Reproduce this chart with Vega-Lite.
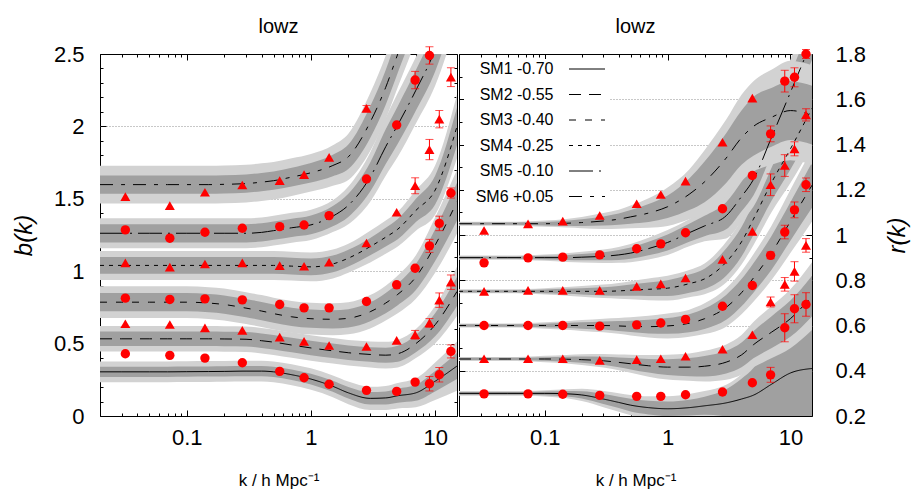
{
"$schema":"https://vega.github.io/schema/vega-lite/v6.json",
"background":"white",
"padding":{"left":11,"top":16,"right":2,"bottom":2},
"spacing":0,
"config":{
 "font":"Liberation Sans",
 "view":{"stroke":"black","strokeWidth":1},
 "title":{"fontSize":20,"fontWeight":"normal","color":"black","offset":6,"frame":"group"},
 "axis":{"labelFontSize":22,"labelColor":"black","tickColor":"black","titleColor":"black","titleFontWeight":"normal","domain":false,"labelOverlap":false,"labelFlush":false,"zindex":1,"gridColor":"#909090","gridDash":[1,2],"gridWidth":1}
},
"resolve":{"scale":{"x":"independent","y":"independent","strokeDash":"independent","shape":"independent"},"legend":{"strokeDash":"independent","shape":"independent"}},
"datasets":{
"cl":[
{"m":"SM1 -0.70","k":0.02,"v":0.305,"a":0.035,"b":0.072},{"m":"SM1 -0.70","k":0.03,"v":0.305,"a":0.035,"b":0.072},{"m":"SM1 -0.70","k":0.05,"v":0.305,"a":0.035,"b":0.072},{"m":"SM1 -0.70","k":0.07,"v":0.305,"a":0.035,"b":0.072},{"m":"SM1 -0.70","k":0.1,"v":0.306,"a":0.035,"b":0.072},{"m":"SM1 -0.70","k":0.15,"v":0.307,"a":0.035,"b":0.072},{"m":"SM1 -0.70","k":0.2,"v":0.308,"a":0.035,"b":0.072},{"m":"SM1 -0.70","k":0.3,"v":0.31,"a":0.035,"b":0.072},{"m":"SM1 -0.70","k":0.4,"v":0.31,"a":0.035,"b":0.072},{"m":"SM1 -0.70","k":0.5,"v":0.305,"a":0.035,"b":0.072},{"m":"SM1 -0.70","k":0.7,"v":0.285,"a":0.036,"b":0.073},{"m":"SM1 -0.70","k":1,"v":0.255,"a":0.037,"b":0.074},{"m":"SM1 -0.70","k":1.5,"v":0.205,"a":0.038,"b":0.075},{"m":"SM1 -0.70","k":2,"v":0.16,"a":0.04,"b":0.078},{"m":"SM1 -0.70","k":3,"v":0.122,"a":0.043,"b":0.08},{"m":"SM1 -0.70","k":4,"v":0.125,"a":0.045,"b":0.083},{"m":"SM1 -0.70","k":5,"v":0.14,"a":0.048,"b":0.088},{"m":"SM1 -0.70","k":7,"v":0.16,"a":0.055,"b":0.1},{"m":"SM1 -0.70","k":10,"v":0.24,"a":0.07,"b":0.13},{"m":"SM1 -0.70","k":15,"v":0.345,"a":0.09,"b":0.17},
{"m":"SM2 -0.55","k":0.02,"v":0.533,"a":0.05,"b":0.088},{"m":"SM2 -0.55","k":0.03,"v":0.533,"a":0.05,"b":0.088},{"m":"SM2 -0.55","k":0.05,"v":0.533,"a":0.05,"b":0.088},{"m":"SM2 -0.55","k":0.07,"v":0.533,"a":0.05,"b":0.088},{"m":"SM2 -0.55","k":0.1,"v":0.533,"a":0.05,"b":0.088},{"m":"SM2 -0.55","k":0.15,"v":0.533,"a":0.05,"b":0.088},{"m":"SM2 -0.55","k":0.2,"v":0.532,"a":0.05,"b":0.088},{"m":"SM2 -0.55","k":0.3,"v":0.53,"a":0.05,"b":0.088},{"m":"SM2 -0.55","k":0.4,"v":0.52,"a":0.05,"b":0.088},{"m":"SM2 -0.55","k":0.5,"v":0.51,"a":0.05,"b":0.088},{"m":"SM2 -0.55","k":0.7,"v":0.49,"a":0.05,"b":0.088},{"m":"SM2 -0.55","k":1,"v":0.47,"a":0.05,"b":0.088},{"m":"SM2 -0.55","k":1.5,"v":0.45,"a":0.05,"b":0.088},{"m":"SM2 -0.55","k":2,"v":0.437,"a":0.05,"b":0.088},{"m":"SM2 -0.55","k":3,"v":0.425,"a":0.05,"b":0.09},{"m":"SM2 -0.55","k":4,"v":0.42,"a":0.052,"b":0.092},{"m":"SM2 -0.55","k":5,"v":0.43,"a":0.055,"b":0.095},{"m":"SM2 -0.55","k":7,"v":0.5,"a":0.06,"b":0.1},{"m":"SM2 -0.55","k":10,"v":0.63,"a":0.08,"b":0.13},{"m":"SM2 -0.55","k":15,"v":0.86,"a":0.1,"b":0.17},
{"m":"SM3 -0.40","k":0.02,"v":0.786,"a":0.063,"b":0.11},{"m":"SM3 -0.40","k":0.03,"v":0.786,"a":0.063,"b":0.11},{"m":"SM3 -0.40","k":0.05,"v":0.786,"a":0.063,"b":0.11},{"m":"SM3 -0.40","k":0.07,"v":0.786,"a":0.063,"b":0.11},{"m":"SM3 -0.40","k":0.1,"v":0.786,"a":0.063,"b":0.11},{"m":"SM3 -0.40","k":0.15,"v":0.78,"a":0.063,"b":0.11},{"m":"SM3 -0.40","k":0.2,"v":0.77,"a":0.063,"b":0.11},{"m":"SM3 -0.40","k":0.3,"v":0.745,"a":0.063,"b":0.11},{"m":"SM3 -0.40","k":0.4,"v":0.725,"a":0.063,"b":0.11},{"m":"SM3 -0.40","k":0.5,"v":0.707,"a":0.063,"b":0.11},{"m":"SM3 -0.40","k":0.7,"v":0.685,"a":0.063,"b":0.11},{"m":"SM3 -0.40","k":1,"v":0.672,"a":0.063,"b":0.11},{"m":"SM3 -0.40","k":1.5,"v":0.668,"a":0.063,"b":0.11},{"m":"SM3 -0.40","k":2,"v":0.675,"a":0.063,"b":0.11},{"m":"SM3 -0.40","k":3,"v":0.72,"a":0.065,"b":0.115},{"m":"SM3 -0.40","k":4,"v":0.78,"a":0.07,"b":0.12},{"m":"SM3 -0.40","k":5,"v":0.84,"a":0.075,"b":0.13},{"m":"SM3 -0.40","k":7,"v":0.96,"a":0.09,"b":0.15},{"m":"SM3 -0.40","k":10,"v":1.18,"a":0.11,"b":0.19},{"m":"SM3 -0.40","k":15,"v":1.48,"a":0.13,"b":0.22},
{"m":"SM4 -0.25","k":0.02,"v":1.04,"a":0.058,"b":0.1},{"m":"SM4 -0.25","k":0.03,"v":1.04,"a":0.058,"b":0.1},{"m":"SM4 -0.25","k":0.05,"v":1.04,"a":0.058,"b":0.1},{"m":"SM4 -0.25","k":0.07,"v":1.04,"a":0.058,"b":0.1},{"m":"SM4 -0.25","k":0.1,"v":1.04,"a":0.058,"b":0.1},{"m":"SM4 -0.25","k":0.15,"v":1.04,"a":0.058,"b":0.1},{"m":"SM4 -0.25","k":0.2,"v":1.04,"a":0.058,"b":0.1},{"m":"SM4 -0.25","k":0.3,"v":1.04,"a":0.058,"b":0.1},{"m":"SM4 -0.25","k":0.4,"v":1.04,"a":0.058,"b":0.1},{"m":"SM4 -0.25","k":0.5,"v":1.04,"a":0.058,"b":0.1},{"m":"SM4 -0.25","k":0.7,"v":1.035,"a":0.058,"b":0.1},{"m":"SM4 -0.25","k":1,"v":1.03,"a":0.058,"b":0.1},{"m":"SM4 -0.25","k":1.5,"v":1.05,"a":0.058,"b":0.1},{"m":"SM4 -0.25","k":2,"v":1.09,"a":0.058,"b":0.1},{"m":"SM4 -0.25","k":3,"v":1.17,"a":0.06,"b":0.11},{"m":"SM4 -0.25","k":4,"v":1.235,"a":0.065,"b":0.115},{"m":"SM4 -0.25","k":5,"v":1.29,"a":0.07,"b":0.12},{"m":"SM4 -0.25","k":7,"v":1.42,"a":0.08,"b":0.14},{"m":"SM4 -0.25","k":10,"v":1.56,"a":0.1,"b":0.17},{"m":"SM4 -0.25","k":15,"v":2.0,"a":0.13,"b":0.22},
{"m":"SM5 -0.10","k":0.02,"v":1.262,"a":0.063,"b":0.103},{"m":"SM5 -0.10","k":0.03,"v":1.262,"a":0.063,"b":0.103},{"m":"SM5 -0.10","k":0.05,"v":1.262,"a":0.063,"b":0.103},{"m":"SM5 -0.10","k":0.07,"v":1.262,"a":0.063,"b":0.103},{"m":"SM5 -0.10","k":0.1,"v":1.262,"a":0.063,"b":0.103},{"m":"SM5 -0.10","k":0.15,"v":1.262,"a":0.063,"b":0.103},{"m":"SM5 -0.10","k":0.2,"v":1.262,"a":0.063,"b":0.103},{"m":"SM5 -0.10","k":0.3,"v":1.262,"a":0.063,"b":0.103},{"m":"SM5 -0.10","k":0.4,"v":1.268,"a":0.063,"b":0.103},{"m":"SM5 -0.10","k":0.5,"v":1.28,"a":0.063,"b":0.103},{"m":"SM5 -0.10","k":0.7,"v":1.3,"a":0.063,"b":0.103},{"m":"SM5 -0.10","k":1,"v":1.32,"a":0.065,"b":0.105},{"m":"SM5 -0.10","k":1.5,"v":1.38,"a":0.07,"b":0.11},{"m":"SM5 -0.10","k":2,"v":1.455,"a":0.08,"b":0.13},{"m":"SM5 -0.10","k":3,"v":1.65,"a":0.1,"b":0.17},{"m":"SM5 -0.10","k":4,"v":1.86,"a":0.12,"b":0.2},{"m":"SM5 -0.10","k":5,"v":2.01,"a":0.13,"b":0.22},{"m":"SM5 -0.10","k":7,"v":2.25,"a":0.14,"b":0.23},{"m":"SM5 -0.10","k":10,"v":2.53,"a":0.15,"b":0.25},{"m":"SM5 -0.10","k":15,"v":3.0,"a":0.16,"b":0.27},
{"m":"SM6 +0.05","k":0.02,"v":1.598,"a":0.063,"b":0.13},{"m":"SM6 +0.05","k":0.03,"v":1.598,"a":0.063,"b":0.13},{"m":"SM6 +0.05","k":0.05,"v":1.598,"a":0.063,"b":0.13},{"m":"SM6 +0.05","k":0.07,"v":1.598,"a":0.063,"b":0.13},{"m":"SM6 +0.05","k":0.1,"v":1.598,"a":0.063,"b":0.13},{"m":"SM6 +0.05","k":0.15,"v":1.598,"a":0.063,"b":0.13},{"m":"SM6 +0.05","k":0.2,"v":1.6,"a":0.063,"b":0.13},{"m":"SM6 +0.05","k":0.3,"v":1.605,"a":0.063,"b":0.13},{"m":"SM6 +0.05","k":0.4,"v":1.615,"a":0.063,"b":0.13},{"m":"SM6 +0.05","k":0.5,"v":1.625,"a":0.063,"b":0.13},{"m":"SM6 +0.05","k":0.7,"v":1.65,"a":0.065,"b":0.13},{"m":"SM6 +0.05","k":1,"v":1.68,"a":0.068,"b":0.13},{"m":"SM6 +0.05","k":1.5,"v":1.73,"a":0.075,"b":0.14},{"m":"SM6 +0.05","k":2,"v":1.79,"a":0.085,"b":0.16},{"m":"SM6 +0.05","k":3,"v":2.03,"a":0.11,"b":0.2},{"m":"SM6 +0.05","k":4,"v":2.27,"a":0.12,"b":0.22},{"m":"SM6 +0.05","k":5,"v":2.5,"a":0.13,"b":0.23},{"m":"SM6 +0.05","k":7,"v":2.85,"a":0.14,"b":0.25},{"m":"SM6 +0.05","k":10,"v":3.3,"a":0.15,"b":0.26},{"m":"SM6 +0.05","k":15,"v":3.9,"a":0.16,"b":0.27}
],
"cr":[
{"m":"SM1 -0.70","k":0.02,"v":0.3,"a":0.006,"b":0.01},{"m":"SM1 -0.70","k":0.03,"v":0.3,"a":0.006,"b":0.01},{"m":"SM1 -0.70","k":0.05,"v":0.3,"a":0.006,"b":0.01},{"m":"SM1 -0.70","k":0.07,"v":0.3,"a":0.006,"b":0.01},{"m":"SM1 -0.70","k":0.1,"v":0.3,"a":0.008,"b":0.014},{"m":"SM1 -0.70","k":0.15,"v":0.298,"a":0.012,"b":0.02},{"m":"SM1 -0.70","k":0.2,"v":0.293,"a":0.016,"b":0.027},{"m":"SM1 -0.70","k":0.3,"v":0.275,"a":0.022,"b":0.036},{"m":"SM1 -0.70","k":0.4,"v":0.26,"a":0.025,"b":0.041},{"m":"SM1 -0.70","k":0.5,"v":0.248,"a":0.028,"b":0.045},{"m":"SM1 -0.70","k":0.7,"v":0.237,"a":0.03,"b":0.05},{"m":"SM1 -0.70","k":1,"v":0.232,"a":0.032,"b":0.055},{"m":"SM1 -0.70","k":1.5,"v":0.237,"a":0.035,"b":0.06},{"m":"SM1 -0.70","k":2,"v":0.245,"a":0.04,"b":0.065},{"m":"SM1 -0.70","k":3,"v":0.258,"a":0.06,"b":0.08},{"m":"SM1 -0.70","k":4,"v":0.275,"a":0.09,"b":0.11},{"m":"SM1 -0.70","k":5,"v":0.292,"a":0.12,"b":0.15},{"m":"SM1 -0.70","k":7,"v":0.34,"a":0.2,"b":0.24},{"m":"SM1 -0.70","k":10,"v":0.39,"a":0.27,"b":0.32},{"m":"SM1 -0.70","k":15,"v":0.41,"a":0.33,"b":0.38},
{"m":"SM2 -0.55","k":0.02,"v":0.452,"a":0.005,"b":0.009},{"m":"SM2 -0.55","k":0.03,"v":0.452,"a":0.005,"b":0.009},{"m":"SM2 -0.55","k":0.05,"v":0.452,"a":0.005,"b":0.009},{"m":"SM2 -0.55","k":0.07,"v":0.452,"a":0.006,"b":0.01},{"m":"SM2 -0.55","k":0.1,"v":0.452,"a":0.008,"b":0.014},{"m":"SM2 -0.55","k":0.15,"v":0.451,"a":0.011,"b":0.019},{"m":"SM2 -0.55","k":0.2,"v":0.449,"a":0.014,"b":0.024},{"m":"SM2 -0.55","k":0.3,"v":0.444,"a":0.018,"b":0.03},{"m":"SM2 -0.55","k":0.4,"v":0.437,"a":0.022,"b":0.035},{"m":"SM2 -0.55","k":0.5,"v":0.431,"a":0.025,"b":0.04},{"m":"SM2 -0.55","k":0.7,"v":0.422,"a":0.03,"b":0.048},{"m":"SM2 -0.55","k":1,"v":0.416,"a":0.035,"b":0.055},{"m":"SM2 -0.55","k":1.5,"v":0.416,"a":0.04,"b":0.06},{"m":"SM2 -0.55","k":2,"v":0.42,"a":0.045,"b":0.068},{"m":"SM2 -0.55","k":3,"v":0.438,"a":0.05,"b":0.078},{"m":"SM2 -0.55","k":4,"v":0.47,"a":0.055,"b":0.088},{"m":"SM2 -0.55","k":5,"v":0.515,"a":0.06,"b":0.1},{"m":"SM2 -0.55","k":7,"v":0.57,"a":0.07,"b":0.115},{"m":"SM2 -0.55","k":10,"v":0.63,"a":0.08,"b":0.13},{"m":"SM2 -0.55","k":15,"v":0.73,"a":0.09,"b":0.15},
{"m":"SM3 -0.40","k":0.02,"v":0.6,"a":0.005,"b":0.009},{"m":"SM3 -0.40","k":0.03,"v":0.6,"a":0.005,"b":0.009},{"m":"SM3 -0.40","k":0.05,"v":0.6,"a":0.005,"b":0.009},{"m":"SM3 -0.40","k":0.07,"v":0.6,"a":0.006,"b":0.01},{"m":"SM3 -0.40","k":0.1,"v":0.6,"a":0.008,"b":0.014},{"m":"SM3 -0.40","k":0.15,"v":0.6,"a":0.011,"b":0.019},{"m":"SM3 -0.40","k":0.2,"v":0.6,"a":0.014,"b":0.024},{"m":"SM3 -0.40","k":0.3,"v":0.6,"a":0.018,"b":0.03},{"m":"SM3 -0.40","k":0.4,"v":0.598,"a":0.022,"b":0.035},{"m":"SM3 -0.40","k":0.5,"v":0.596,"a":0.025,"b":0.04},{"m":"SM3 -0.40","k":0.7,"v":0.595,"a":0.03,"b":0.048},{"m":"SM3 -0.40","k":1,"v":0.598,"a":0.035,"b":0.055},{"m":"SM3 -0.40","k":1.5,"v":0.61,"a":0.04,"b":0.06},{"m":"SM3 -0.40","k":2,"v":0.63,"a":0.045,"b":0.068},{"m":"SM3 -0.40","k":3,"v":0.68,"a":0.055,"b":0.085},{"m":"SM3 -0.40","k":4,"v":0.745,"a":0.06,"b":0.095},{"m":"SM3 -0.40","k":5,"v":0.81,"a":0.065,"b":0.105},{"m":"SM3 -0.40","k":7,"v":0.92,"a":0.075,"b":0.12},{"m":"SM3 -0.40","k":10,"v":1.06,"a":0.085,"b":0.14},{"m":"SM3 -0.40","k":15,"v":1.22,"a":0.1,"b":0.16},
{"m":"SM4 -0.25","k":0.02,"v":0.751,"a":0.005,"b":0.009},{"m":"SM4 -0.25","k":0.03,"v":0.751,"a":0.005,"b":0.009},{"m":"SM4 -0.25","k":0.05,"v":0.751,"a":0.005,"b":0.009},{"m":"SM4 -0.25","k":0.07,"v":0.751,"a":0.006,"b":0.01},{"m":"SM4 -0.25","k":0.1,"v":0.751,"a":0.008,"b":0.014},{"m":"SM4 -0.25","k":0.15,"v":0.751,"a":0.011,"b":0.019},{"m":"SM4 -0.25","k":0.2,"v":0.751,"a":0.014,"b":0.024},{"m":"SM4 -0.25","k":0.3,"v":0.751,"a":0.018,"b":0.03},{"m":"SM4 -0.25","k":0.4,"v":0.753,"a":0.022,"b":0.035},{"m":"SM4 -0.25","k":0.5,"v":0.756,"a":0.025,"b":0.04},{"m":"SM4 -0.25","k":0.7,"v":0.76,"a":0.03,"b":0.048},{"m":"SM4 -0.25","k":1,"v":0.765,"a":0.035,"b":0.055},{"m":"SM4 -0.25","k":1.5,"v":0.785,"a":0.04,"b":0.06},{"m":"SM4 -0.25","k":2,"v":0.806,"a":0.045,"b":0.068},{"m":"SM4 -0.25","k":3,"v":0.88,"a":0.06,"b":0.09},{"m":"SM4 -0.25","k":4,"v":0.97,"a":0.065,"b":0.1},{"m":"SM4 -0.25","k":5,"v":1.07,"a":0.07,"b":0.115},{"m":"SM4 -0.25","k":7,"v":1.23,"a":0.08,"b":0.13},{"m":"SM4 -0.25","k":10,"v":1.38,"a":0.09,"b":0.15},{"m":"SM4 -0.25","k":15,"v":1.56,"a":0.1,"b":0.17},
{"m":"SM5 -0.10","k":0.02,"v":0.9,"a":0.005,"b":0.009},{"m":"SM5 -0.10","k":0.03,"v":0.9,"a":0.005,"b":0.009},{"m":"SM5 -0.10","k":0.05,"v":0.9,"a":0.005,"b":0.009},{"m":"SM5 -0.10","k":0.07,"v":0.9,"a":0.006,"b":0.01},{"m":"SM5 -0.10","k":0.1,"v":0.9,"a":0.008,"b":0.014},{"m":"SM5 -0.10","k":0.15,"v":0.9,"a":0.011,"b":0.019},{"m":"SM5 -0.10","k":0.2,"v":0.902,"a":0.014,"b":0.024},{"m":"SM5 -0.10","k":0.3,"v":0.906,"a":0.018,"b":0.03},{"m":"SM5 -0.10","k":0.4,"v":0.912,"a":0.022,"b":0.035},{"m":"SM5 -0.10","k":0.5,"v":0.92,"a":0.025,"b":0.04},{"m":"SM5 -0.10","k":0.7,"v":0.94,"a":0.03,"b":0.048},{"m":"SM5 -0.10","k":1,"v":0.967,"a":0.035,"b":0.055},{"m":"SM5 -0.10","k":1.5,"v":1.01,"a":0.04,"b":0.06},{"m":"SM5 -0.10","k":2,"v":1.04,"a":0.045,"b":0.068},{"m":"SM5 -0.10","k":3,"v":1.085,"a":0.06,"b":0.1},{"m":"SM5 -0.10","k":4,"v":1.17,"a":0.065,"b":0.11},{"m":"SM5 -0.10","k":5,"v":1.245,"a":0.07,"b":0.12},{"m":"SM5 -0.10","k":7,"v":1.43,"a":0.075,"b":0.135},{"m":"SM5 -0.10","k":10,"v":1.63,"a":0.08,"b":0.145},{"m":"SM5 -0.10","k":15,"v":1.86,"a":0.085,"b":0.155},
{"m":"SM6 +0.05","k":0.02,"v":1.05,"a":0.005,"b":0.009},{"m":"SM6 +0.05","k":0.03,"v":1.05,"a":0.005,"b":0.009},{"m":"SM6 +0.05","k":0.05,"v":1.05,"a":0.005,"b":0.009},{"m":"SM6 +0.05","k":0.07,"v":1.05,"a":0.006,"b":0.01},{"m":"SM6 +0.05","k":0.1,"v":1.05,"a":0.008,"b":0.014},{"m":"SM6 +0.05","k":0.15,"v":1.052,"a":0.011,"b":0.019},{"m":"SM6 +0.05","k":0.2,"v":1.055,"a":0.015,"b":0.025},{"m":"SM6 +0.05","k":0.3,"v":1.062,"a":0.02,"b":0.035},{"m":"SM6 +0.05","k":0.4,"v":1.07,"a":0.025,"b":0.042},{"m":"SM6 +0.05","k":0.5,"v":1.08,"a":0.03,"b":0.05},{"m":"SM6 +0.05","k":0.7,"v":1.097,"a":0.04,"b":0.065},{"m":"SM6 +0.05","k":1,"v":1.125,"a":0.05,"b":0.085},{"m":"SM6 +0.05","k":1.5,"v":1.18,"a":0.07,"b":0.11},{"m":"SM6 +0.05","k":2,"v":1.235,"a":0.09,"b":0.14},{"m":"SM6 +0.05","k":3,"v":1.34,"a":0.11,"b":0.17},{"m":"SM6 +0.05","k":4,"v":1.43,"a":0.12,"b":0.19},{"m":"SM6 +0.05","k":5,"v":1.48,"a":0.13,"b":0.2},{"m":"SM6 +0.05","k":7,"v":1.52,"a":0.13,"b":0.21},{"m":"SM6 +0.05","k":10,"v":1.55,"a":0.13,"b":0.22},{"m":"SM6 +0.05","k":15,"v":1.53,"a":0.13,"b":0.22}
],
"pl":[
{"k":0.032,"v":0.43,"e":0,"s":"c"},{"k":0.073,"v":0.419,"e":0,"s":"c"},{"k":0.14,"v":0.4,"e":0,"s":"c"},{"k":0.28,"v":0.368,"e":0,"s":"c"},{"k":0.56,"v":0.308,"e":0,"s":"c"},{"k":0.88,"v":0.264,"e":0,"s":"c"},{"k":1.4,"v":0.219,"e":0,"s":"c"},{"k":2.8,"v":0.177,"e":0,"s":"c"},{"k":4.9,"v":0.17,"e":0,"s":"c"},{"k":6.9,"v":0.234,"e":0,"s":"c"},{"k":9,"v":0.223,"e":0.05,"s":"c"},{"k":10.8,"v":0.285,"e":0.05,"s":"c"},{"k":13.4,"v":0.446,"e":0.045,"s":"c"},
{"k":0.032,"v":0.637,"e":0,"s":"t"},{"k":0.073,"v":0.632,"e":0,"s":"t"},{"k":0.14,"v":0.609,"e":0,"s":"t"},{"k":0.28,"v":0.591,"e":0,"s":"t"},{"k":0.56,"v":0.545,"e":0,"s":"t"},{"k":0.88,"v":0.515,"e":0,"s":"t"},{"k":1.4,"v":0.487,"e":0,"s":"t"},{"k":2.8,"v":0.48,"e":0,"s":"t"},{"k":4.9,"v":0.522,"e":0,"s":"t"},{"k":6.9,"v":0.561,"e":0.03,"s":"t"},{"k":9,"v":0.643,"e":0.03,"s":"t"},{"k":10.8,"v":0.8,"e":0.05,"s":"t"},{"k":13.4,"v":0.924,"e":0.05,"s":"t"},
{"k":0.032,"v":0.814,"e":0,"s":"c"},{"k":0.073,"v":0.805,"e":0,"s":"c"},{"k":0.14,"v":0.809,"e":0,"s":"c"},{"k":0.28,"v":0.802,"e":0,"s":"c"},{"k":0.56,"v":0.77,"e":0,"s":"c"},{"k":0.88,"v":0.747,"e":0,"s":"c"},{"k":1.4,"v":0.747,"e":0,"s":"c"},{"k":2.8,"v":0.791,"e":0,"s":"c"},{"k":4.9,"v":0.906,"e":0,"s":"c"},{"k":6.9,"v":1.02,"e":0,"s":"c"},{"k":9,"v":1.175,"e":0.045,"s":"c"},{"k":10.8,"v":1.33,"e":0.05,"s":"c"},{"k":13.4,"v":1.54,"e":0.035,"s":"c"},
{"k":0.032,"v":1.057,"e":0,"s":"t"},{"k":0.073,"v":1.028,"e":0,"s":"t"},{"k":0.14,"v":1.05,"e":0,"s":"t"},{"k":0.28,"v":1.057,"e":0,"s":"t"},{"k":0.56,"v":1.039,"e":0,"s":"t"},{"k":0.88,"v":1.034,"e":0,"s":"t"},{"k":1.4,"v":1.062,"e":0,"s":"t"},{"k":2.8,"v":1.195,"e":0,"s":"t"},{"k":4.9,"v":1.407,"e":0,"s":"t"},{"k":6.9,"v":1.59,"e":0.055,"s":"t"},{"k":9,"v":1.84,"e":0.07,"s":"t"},{"k":10.8,"v":2.05,"e":0.06,"s":"t"},{"k":13.4,"v":2.34,"e":0.065,"s":"t"},
{"k":0.032,"v":1.285,"e":0,"s":"c"},{"k":0.073,"v":1.228,"e":0,"s":"c"},{"k":0.14,"v":1.269,"e":0,"s":"c"},{"k":0.28,"v":1.297,"e":0,"s":"c"},{"k":0.56,"v":1.308,"e":0,"s":"c"},{"k":0.88,"v":1.319,"e":0,"s":"c"},{"k":1.4,"v":1.384,"e":0,"s":"c"},{"k":2.8,"v":1.637,"e":0,"s":"c"},{"k":4.9,"v":2.01,"e":0,"s":"c"},{"k":6.9,"v":2.32,"e":0.06,"s":"c"},{"k":9,"v":2.49,"e":0.06,"s":"c"},
{"k":0.032,"v":1.515,"e":0,"s":"t"},{"k":0.073,"v":1.453,"e":0,"s":"t"},{"k":0.14,"v":1.545,"e":0,"s":"t"},{"k":0.28,"v":1.595,"e":0,"s":"t"},{"k":0.56,"v":1.626,"e":0,"s":"t"},{"k":0.88,"v":1.667,"e":0,"s":"t"},{"k":1.4,"v":1.786,"e":0,"s":"t"},{"k":2.8,"v":2.124,"e":0.02,"s":"t"}
],
"pr":[
{"k":0.032,"v":0.298,"e":0,"s":"c"},{"k":0.073,"v":0.298,"e":0,"s":"c"},{"k":0.14,"v":0.296,"e":0,"s":"c"},{"k":0.28,"v":0.291,"e":0,"s":"c"},{"k":0.56,"v":0.287,"e":0,"s":"c"},{"k":0.88,"v":0.287,"e":0,"s":"c"},{"k":1.4,"v":0.294,"e":0,"s":"c"},{"k":2.8,"v":0.306,"e":0,"s":"c"},{"k":4.9,"v":0.347,"e":0,"s":"c"},{"k":6.9,"v":0.382,"e":0.033,"s":"c"},{"k":9,"v":0.59,"e":0.062,"s":"c"},{"k":10.8,"v":0.674,"e":0.062,"s":"c"},{"k":13.4,"v":0.693,"e":0.052,"s":"c"},
{"k":0.032,"v":0.453,"e":0,"s":"t"},{"k":0.073,"v":0.453,"e":0,"s":"t"},{"k":0.14,"v":0.453,"e":0,"s":"t"},{"k":0.28,"v":0.446,"e":0,"s":"t"},{"k":0.56,"v":0.449,"e":0,"s":"t"},{"k":0.88,"v":0.453,"e":0,"s":"t"},{"k":1.4,"v":0.464,"e":0,"s":"t"},{"k":2.8,"v":0.495,"e":0,"s":"t"},{"k":4.9,"v":0.559,"e":0,"s":"t"},{"k":6.9,"v":0.704,"e":0.022,"s":"t"},{"k":9,"v":0.782,"e":0.03,"s":"t"},{"k":10.8,"v":0.839,"e":0.043,"s":"t"},{"k":13.4,"v":0.954,"e":0.03,"s":"t"},
{"k":0.032,"v":0.6,"e":0,"s":"c"},{"k":0.073,"v":0.6,"e":0,"s":"c"},{"k":0.14,"v":0.6,"e":0,"s":"c"},{"k":0.28,"v":0.597,"e":0,"s":"c"},{"k":0.56,"v":0.603,"e":0,"s":"c"},{"k":0.88,"v":0.611,"e":0,"s":"c"},{"k":1.4,"v":0.627,"e":0,"s":"c"},{"k":2.8,"v":0.685,"e":0,"s":"c"},{"k":4.9,"v":0.777,"e":0,"s":"c"},{"k":6.9,"v":0.91,"e":0.015,"s":"c"},{"k":9,"v":1.013,"e":0.03,"s":"c"},{"k":10.8,"v":1.111,"e":0.035,"s":"c"},{"k":13.4,"v":1.222,"e":0.03,"s":"c"},
{"k":0.032,"v":0.751,"e":0,"s":"t"},{"k":0.073,"v":0.755,"e":0,"s":"t"},{"k":0.14,"v":0.755,"e":0,"s":"t"},{"k":0.28,"v":0.755,"e":0,"s":"t"},{"k":0.56,"v":0.773,"e":0,"s":"t"},{"k":0.88,"v":0.784,"e":0,"s":"t"},{"k":1.4,"v":0.81,"e":0,"s":"t"},{"k":2.8,"v":0.892,"e":0,"s":"t"},{"k":4.9,"v":1.016,"e":0,"s":"t"},{"k":6.9,"v":1.222,"e":0.048,"s":"t"},{"k":9,"v":1.307,"e":0.048,"s":"t"},{"k":10.8,"v":1.381,"e":0.031,"s":"t"},{"k":13.4,"v":1.531,"e":0.027,"s":"t"},
{"k":0.032,"v":0.877,"e":0,"s":"c"},{"k":0.073,"v":0.899,"e":0,"s":"c"},{"k":0.14,"v":0.902,"e":0,"s":"c"},{"k":0.28,"v":0.912,"e":0,"s":"c"},{"k":0.56,"v":0.939,"e":0,"s":"c"},{"k":0.88,"v":0.961,"e":0,"s":"c"},{"k":1.4,"v":1.01,"e":0,"s":"c"},{"k":2.8,"v":1.116,"e":0,"s":"c"},{"k":4.9,"v":1.263,"e":0,"s":"c"},{"k":6.9,"v":1.447,"e":0.035,"s":"c"},{"k":9,"v":1.68,"e":0.048,"s":"c"},{"k":10.8,"v":1.697,"e":0.042,"s":"c"},{"k":13.4,"v":1.8,"e":0.02,"s":"c"},
{"k":0.032,"v":1.02,"e":0,"s":"t"},{"k":0.073,"v":1.049,"e":0,"s":"t"},{"k":0.14,"v":1.061,"e":0,"s":"t"},{"k":0.28,"v":1.086,"e":0,"s":"t"},{"k":0.56,"v":1.138,"e":0,"s":"t"},{"k":0.88,"v":1.179,"e":0,"s":"t"},{"k":1.4,"v":1.238,"e":0,"s":"t"},{"k":2.8,"v":1.41,"e":0,"s":"t"},{"k":4.9,"v":1.605,"e":0,"s":"t"}
]
},
"hconcat":[
{
 "title":"lowz",
 "width":357,"height":362,
 "resolve":{"axis":{"x":"independent","y":"independent"}},
 "encoding":{
  "x":{"field":"k","type":"quantitative","scale":{"type":"log","domain":[0.02,15],"nice":false},"axis":null},
  "y":{"field":"v","type":"quantitative","scale":{"domain":[0,2.5],"nice":false,"zero":false},"axis":null}
 },
 "layer":[
  {"data":{"name":"cl"},"transform":[{"filter":"datum.m=='SM1 -0.70'"}],"mark":{"type":"errorband","clip":true,"color":"#d2d2d2","opacity":1,"band":{"opacity":1},"interpolate":"monotone"},
   "encoding":{
    "x":{"field":"k","type":"quantitative","scale":{"type":"log","domain":[0.02,15],"nice":false},
     "axis":{"orient":"bottom","title":"k / h Mpc⁻¹","titleFontSize":17,"titlePadding":21,"values":[0.02,0.03,0.04,0.05,0.06,0.07,0.08,0.09,0.1,0.2,0.3,0.4,0.5,0.6,0.7,0.8,0.9,1,2,3,4,5,6,7,8,9,10],"format":"~g","labelExpr":"datum.value==0.1||datum.value==1||datum.value==10 ? datum.label : ''","tickSize":{"condition":{"test":"datum.value==0.1||datum.value==1||datum.value==10","value":-6},"value":-3},"labelPadding":17,"grid":false}},
    "y":{"field":"v","type":"quantitative","scale":{"domain":[0,2.5],"nice":false,"zero":false},
     "axis":{"orient":"left","title":"b(k)","titleFontSize":24,"titleFontStyle":"italic","titlePadding":17,"values":[0,0.1,0.2,0.3,0.4,0.5,0.6,0.7,0.8,0.9,1,1.1,1.2,1.3,1.4,1.5,1.6,1.7,1.8,1.9,2,2.1,2.2,2.3,2.4,2.5],"format":"~g","labelExpr":"indexof([0,0.5,1,1.5,2,2.5],datum.value)>=0 ? datum.label : ''","tickSize":{"condition":{"test":"indexof([0,0.5,1,1.5,2,2.5],datum.value)>=0","value":-6},"value":-3},"labelPadding":22,"grid":true,"gridOpacity":{"condition":{"test":"indexof([0.5,1,1.5,2],datum.value)>=0","value":1},"value":0}}},
    "yError":{"field":"b"}}},
  {"data":{"name":"cl"},"transform":[{"filter":"datum.m=='SM1 -0.70'"}],"mark":{"type":"errorband","clip":true,"color":"#a0a0a0","opacity":1,"band":{"opacity":1},"interpolate":"monotone"},"encoding":{"yError":{"field":"a"}}},
  {"data":{"name":"cl"},"transform":[{"filter":"datum.m=='SM2 -0.55'"}],"mark":{"type":"errorband","clip":true,"color":"#d2d2d2","opacity":1,"band":{"opacity":1},"interpolate":"monotone"},"encoding":{"yError":{"field":"b"}}},
  {"data":{"name":"cl"},"transform":[{"filter":"datum.m=='SM2 -0.55'"}],"mark":{"type":"errorband","clip":true,"color":"#a0a0a0","opacity":1,"band":{"opacity":1},"interpolate":"monotone"},"encoding":{"yError":{"field":"a"}}},
  {"data":{"name":"cl"},"transform":[{"filter":"datum.m=='SM3 -0.40'"}],"mark":{"type":"errorband","clip":true,"color":"#d2d2d2","opacity":1,"band":{"opacity":1},"interpolate":"monotone"},"encoding":{"yError":{"field":"b"}}},
  {"data":{"name":"cl"},"transform":[{"filter":"datum.m=='SM3 -0.40'"}],"mark":{"type":"errorband","clip":true,"color":"#a0a0a0","opacity":1,"band":{"opacity":1},"interpolate":"monotone"},"encoding":{"yError":{"field":"a"}}},
  {"data":{"name":"cl"},"transform":[{"filter":"datum.m=='SM4 -0.25'"}],"mark":{"type":"errorband","clip":true,"color":"#d2d2d2","opacity":1,"band":{"opacity":1},"interpolate":"monotone"},"encoding":{"yError":{"field":"b"}}},
  {"data":{"name":"cl"},"transform":[{"filter":"datum.m=='SM4 -0.25'"}],"mark":{"type":"errorband","clip":true,"color":"#a0a0a0","opacity":1,"band":{"opacity":1},"interpolate":"monotone"},"encoding":{"yError":{"field":"a"}}},
  {"data":{"name":"cl"},"transform":[{"filter":"datum.m=='SM5 -0.10'"}],"mark":{"type":"errorband","clip":true,"color":"#d2d2d2","opacity":1,"band":{"opacity":1},"interpolate":"monotone"},"encoding":{"yError":{"field":"b"}}},
  {"data":{"name":"cl"},"transform":[{"filter":"datum.m=='SM5 -0.10'"}],"mark":{"type":"errorband","clip":true,"color":"#a0a0a0","opacity":1,"band":{"opacity":1},"interpolate":"monotone"},"encoding":{"yError":{"field":"a"}}},
  {"data":{"name":"cl"},"transform":[{"filter":"datum.m=='SM6 +0.05'"}],"mark":{"type":"errorband","clip":true,"color":"#d2d2d2","opacity":1,"band":{"opacity":1},"interpolate":"monotone"},"encoding":{"yError":{"field":"b"}}},
  {"data":{"name":"cl"},"transform":[{"filter":"datum.m=='SM6 +0.05'"}],"mark":{"type":"errorband","clip":true,"color":"#a0a0a0","opacity":1,"band":{"opacity":1},"interpolate":"monotone"},"encoding":{"yError":{"field":"a"}}},
  {"data":{"name":"cl"},"mark":{"type":"line","clip":true,"color":"black","strokeWidth":1,"interpolate":"monotone"},
   "encoding":{
    "x":{"field":"k","type":"quantitative","scale":{"type":"log","domain":[0.02,15],"nice":false},
     "axis":{"orient":"top","labels":false,"title":null,"values":[0.02,0.03,0.04,0.05,0.06,0.07,0.08,0.09,0.1,0.2,0.3,0.4,0.5,0.6,0.7,0.8,0.9,1,2,3,4,5,6,7,8,9,10],"tickSize":{"condition":{"test":"datum.value==0.1||datum.value==1||datum.value==10","value":-6},"value":-3},"grid":false}},
    "strokeDash":{"field":"m","type":"nominal","scale":{"domain":["SM1 -0.70","SM2 -0.55","SM3 -0.40","SM4 -0.25","SM5 -0.10","SM6 +0.05"],"range":[[1,0],[12,8],[7,9],[4,5],[24,6,2,6],[13,8,4,8]]},"legend":null}}},
  {"data":{"name":"pl"},"transform":[{"filter":"datum.e>0"}],"mark":{"type":"errorbar","color":"#ff0000","ticks":{"size":8},"thickness":1},"encoding":{"yError":{"field":"e"}}},
  {"data":{"name":"pl"},"mark":{"type":"point","filled":true,"color":"#ff0000","opacity":1},
   "encoding":{
    "y":{"field":"v","type":"quantitative","scale":{"domain":[0,2.5],"nice":false,"zero":false},
     "axis":{"orient":"right","labels":false,"title":null,"values":[0,0.1,0.2,0.3,0.4,0.5,0.6,0.7,0.8,0.9,1,1.1,1.2,1.3,1.4,1.5,1.6,1.7,1.8,1.9,2,2.1,2.2,2.3,2.4,2.5],"tickSize":{"condition":{"test":"indexof([0,0.5,1,1.5,2,2.5],datum.value)>=0","value":-6},"value":-3},"grid":false}},
    "shape":{"field":"s","type":"nominal","scale":{"domain":["c","t"],"range":["circle","triangle-up"]},"legend":null},
    "size":{"condition":{"test":"datum.s=='t'","value":100},"value":88}}}
 ]
},
{
 "title":"lowz",
 "width":353,"height":362,
 "resolve":{"axis":{"x":"independent","y":"independent"}},
 "encoding":{
  "x":{"field":"k","type":"quantitative","scale":{"type":"log","domain":[0.02,15],"nice":false},"axis":null},
  "y":{"field":"v","type":"quantitative","scale":{"domain":[0.2,1.8],"nice":false,"zero":false},"axis":null}
 },
 "layer":[
  {"data":{"name":"cr"},"transform":[{"filter":"datum.m=='SM1 -0.70'"}],"mark":{"type":"errorband","clip":true,"color":"#d2d2d2","opacity":1,"band":{"opacity":1},"interpolate":"monotone"},
   "encoding":{
    "x":{"field":"k","type":"quantitative","scale":{"type":"log","domain":[0.02,15],"nice":false},
     "axis":{"orient":"bottom","title":"k / h Mpc⁻¹","titleFontSize":17,"titlePadding":21,"values":[0.02,0.03,0.04,0.05,0.06,0.07,0.08,0.09,0.1,0.2,0.3,0.4,0.5,0.6,0.7,0.8,0.9,1,2,3,4,5,6,7,8,9,10],"format":"~g","labelExpr":"datum.value==0.1||datum.value==1||datum.value==10 ? datum.label : ''","tickSize":{"condition":{"test":"datum.value==0.1||datum.value==1||datum.value==10","value":-6},"value":-3},"labelPadding":17,"grid":false}},
    "y":{"field":"v","type":"quantitative","scale":{"domain":[0.2,1.8],"nice":false,"zero":false},
     "axis":{"orient":"right","title":"r(k)","titleFontSize":24,"titleFontStyle":"italic","titleAngle":270,"titleBaseline":"top","titlePadding":20,"values":[0.2,0.3,0.4,0.5,0.6,0.7,0.8,0.9,1,1.1,1.2,1.3,1.4,1.5,1.6,1.7,1.8],"format":"~g","labelExpr":"indexof([0.2,0.4,0.6,0.8,1,1.2,1.4,1.6,1.8],datum.value)>=0 ? datum.label : ''","tickSize":{"condition":{"test":"indexof([0.2,0.4,0.6,0.8,1,1.2,1.4,1.6,1.8],datum.value)>=0","value":-6},"value":-3},"labelPadding":29,"labelAlign":"left","grid":true,"gridOpacity":{"condition":{"test":"indexof([0.4,0.6,0.8,1,1.2,1.4,1.6],datum.value)>=0","value":1},"value":0}}},
    "yError":{"field":"b"}}},
  {"data":{"name":"cr"},"transform":[{"filter":"datum.m=='SM1 -0.70'"}],"mark":{"type":"errorband","clip":true,"color":"#a0a0a0","opacity":1,"band":{"opacity":1},"interpolate":"monotone"},"encoding":{"yError":{"field":"a"}}},
  {"data":{"name":"cr"},"transform":[{"filter":"datum.m=='SM2 -0.55'"}],"mark":{"type":"errorband","clip":true,"color":"#d2d2d2","opacity":1,"band":{"opacity":1},"interpolate":"monotone"},"encoding":{"yError":{"field":"b"}}},
  {"data":{"name":"cr"},"transform":[{"filter":"datum.m=='SM2 -0.55'"}],"mark":{"type":"errorband","clip":true,"color":"#a0a0a0","opacity":1,"band":{"opacity":1},"interpolate":"monotone"},"encoding":{"yError":{"field":"a"}}},
  {"data":{"name":"cr"},"transform":[{"filter":"datum.m=='SM3 -0.40'"}],"mark":{"type":"errorband","clip":true,"color":"#d2d2d2","opacity":1,"band":{"opacity":1},"interpolate":"monotone"},"encoding":{"yError":{"field":"b"}}},
  {"data":{"name":"cr"},"transform":[{"filter":"datum.m=='SM3 -0.40'"}],"mark":{"type":"errorband","clip":true,"color":"#a0a0a0","opacity":1,"band":{"opacity":1},"interpolate":"monotone"},"encoding":{"yError":{"field":"a"}}},
  {"data":{"name":"cr"},"transform":[{"filter":"datum.m=='SM4 -0.25'"}],"mark":{"type":"errorband","clip":true,"color":"#d2d2d2","opacity":1,"band":{"opacity":1},"interpolate":"monotone"},"encoding":{"yError":{"field":"b"}}},
  {"data":{"name":"cr"},"transform":[{"filter":"datum.m=='SM4 -0.25'"}],"mark":{"type":"errorband","clip":true,"color":"#a0a0a0","opacity":1,"band":{"opacity":1},"interpolate":"monotone"},"encoding":{"yError":{"field":"a"}}},
  {"data":{"name":"cr"},"transform":[{"filter":"datum.m=='SM5 -0.10'"}],"mark":{"type":"errorband","clip":true,"color":"#d2d2d2","opacity":1,"band":{"opacity":1},"interpolate":"monotone"},"encoding":{"yError":{"field":"b"}}},
  {"data":{"name":"cr"},"transform":[{"filter":"datum.m=='SM5 -0.10'"}],"mark":{"type":"errorband","clip":true,"color":"#a0a0a0","opacity":1,"band":{"opacity":1},"interpolate":"monotone"},"encoding":{"yError":{"field":"a"}}},
  {"data":{"name":"cr"},"transform":[{"filter":"datum.m=='SM6 +0.05'"}],"mark":{"type":"errorband","clip":true,"color":"#d2d2d2","opacity":1,"band":{"opacity":1},"interpolate":"monotone"},"encoding":{"yError":{"field":"b"}}},
  {"data":{"name":"cr"},"transform":[{"filter":"datum.m=='SM6 +0.05'"}],"mark":{"type":"errorband","clip":true,"color":"#a0a0a0","opacity":1,"band":{"opacity":1},"interpolate":"monotone"},"encoding":{"yError":{"field":"a"}}},
  {"data":{"name":"cr"},"mark":{"type":"line","clip":true,"color":"black","strokeWidth":1,"interpolate":"monotone"},
   "encoding":{
    "x":{"field":"k","type":"quantitative","scale":{"type":"log","domain":[0.02,15],"nice":false},
     "axis":{"orient":"top","labels":false,"title":null,"values":[0.02,0.03,0.04,0.05,0.06,0.07,0.08,0.09,0.1,0.2,0.3,0.4,0.5,0.6,0.7,0.8,0.9,1,2,3,4,5,6,7,8,9,10],"tickSize":{"condition":{"test":"datum.value==0.1||datum.value==1||datum.value==10","value":-6},"value":-3},"grid":false}},
    "strokeDash":{"field":"m","type":"nominal","scale":{"domain":["SM1 -0.70","SM2 -0.55","SM3 -0.40","SM4 -0.25","SM5 -0.10","SM6 +0.05"],"range":[[1,0],[12,8],[7,9],[4,5],[24,6,2,6],[13,8,4,8]]},
     "legend":{"orient":"top-left","offset":5,"padding":2,"fillColor":"white","title":null,"labelFontSize":16,"labelColor":"black","labelLimit":200,"labelAlign":"right","labelOffset":71.5,"symbolType":"M19,0H26.2","symbolSize":100,"symbolStrokeWidth":1,"symbolStrokeColor":"black","rowPadding":9.5}}}},
  {"data":{"name":"pr"},"transform":[{"filter":"datum.e>0"}],"mark":{"type":"errorbar","color":"#ff0000","ticks":{"size":8},"thickness":1},"encoding":{"yError":{"field":"e"}}},
  {"data":{"name":"pr"},"mark":{"type":"point","filled":true,"color":"#ff0000","opacity":1},
   "encoding":{
    "y":{"field":"v","type":"quantitative","scale":{"domain":[0.2,1.8],"nice":false,"zero":false},
     "axis":{"orient":"left","labels":false,"title":null,"values":[0.2,0.3,0.4,0.5,0.6,0.7,0.8,0.9,1,1.1,1.2,1.3,1.4,1.5,1.6,1.7,1.8],"tickSize":{"condition":{"test":"indexof([0.2,0.4,0.6,0.8,1,1.2,1.4,1.6,1.8],datum.value)>=0","value":-6},"value":-3},"grid":false}},
    "shape":{"field":"s","type":"nominal","scale":{"domain":["c","t"],"range":["circle","triangle-up"]},"legend":null},
    "size":{"condition":{"test":"datum.s=='t'","value":100},"value":88}}}
 ]
}
]
}
